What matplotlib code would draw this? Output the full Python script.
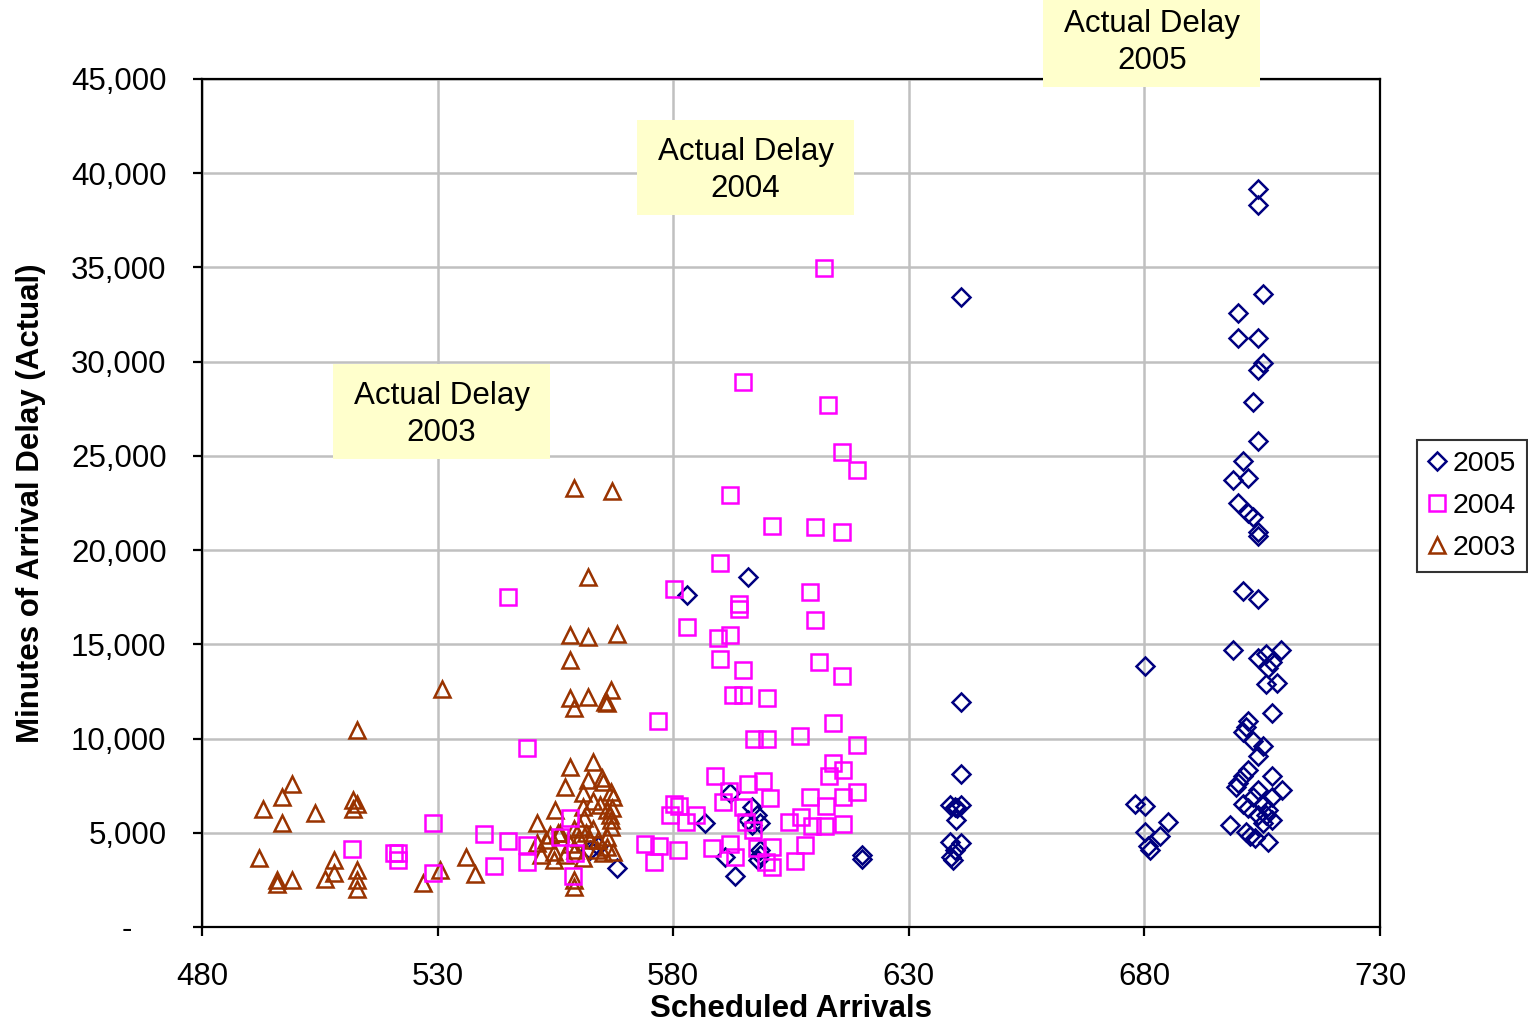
import matplotlib
matplotlib.use("Agg")
import matplotlib.pyplot as plt
from matplotlib.patches import Rectangle
from matplotlib.ticker import FuncFormatter
from matplotlib.lines import Line2D

plt.rcParams['font.family'] = ['Liberation Sans', 'DejaVu Sans']

# ---------------- data ----------------
x_2003 = [492, 493, 496, 496, 497, 497, 499, 499, 504, 506, 508, 508, 512, 513, 512, 513, 513, 513, 513,
          527, 531, 530.5, 536, 538,
          551, 551, 553.9, 553.1, 555.6, 554.6, 554.6, 554.9, 557, 558.1, 558.1, 558.1, 558.1, 559, 559,
          567.1, 562, 562, 568, 562, 566.9, 565.9, 565.5, 563, 562, 564.8, 565.2, 560.9, 566.9, 567.3,
          560.9, 564.5, 565.9, 566.6, 566.9, 566.9, 560.2, 561.6, 562.3, 559.2, 563.8, 565.9, 567.3,
          565.2, 560.9, 559, 559,
          557, 558, 560, 563, 564, 566, 561, 563, 567, 559, 552, 556]
y_2003 = [3650, 6250, 2300, 2500, 6900, 5500, 7600, 2500, 6050, 2550, 3550, 2850, 6750, 6550, 6250, 10450, 3050, 2500, 2000,
          2350, 12650, 3000, 3700, 2800,
          5500, 4440, 4880, 4620, 4970, 4000, 3560, 6210, 7450, 8510, 15500, 14170, 12140, 11600, 23300,
          23150, 18560, 15400, 15550, 12220, 12580, 11870, 11960, 8770, 7800, 7890, 7710, 7100, 7180, 6910,
          6380, 6470, 6210, 5940, 5680, 5320, 5320, 4970, 4620, 4090, 4090, 4260, 4000,
          3910, 3650, 2490, 2140,
          3800, 4400, 4700, 5200, 4600, 4800, 5800, 6700, 6300, 5200, 3800, 5000]

x_2004 = [612.0, 594.8, 612.9, 615.8, 619.0, 592.1, 601.0, 610.1, 615.8, 589.9, 580.2, 544.9, 609.0,
          594.0, 594.0, 610.1, 582.9, 592.1, 589.5, 610.9, 589.9, 594.8, 615.8, 592.7, 594.8, 599.9,
          613.9, 576.8, 606.9, 597.1, 599.9, 619.0, 549.0, 613.9, 613.0, 616.0, 588.9, 595.9, 599.1,
          619.0, 591.8, 609.0, 580.2, 581.2, 590.6, 584.8, 594.8, 600.5, 612.4, 616.0, 579.3, 582.7,
          604.6, 607.1, 609.5, 612.2, 616.0, 595.4, 529.0, 539.8, 544.9, 549.0, 549.0, 511.8, 520.7,
          521.6, 521.6, 529.0, 542.0, 558.0, 556.0, 559.2, 558.8, 574.0, 577.0, 575.9, 581.0, 588.2,
          592.1, 593.2, 597.8, 601.0, 601.0, 599.7, 605.8, 608.0, 596.9]
y_2004 = [34970, 28900, 27700, 25200, 24250, 22900, 21300, 21200, 20950, 19300, 17950, 17500, 17800,
          17150, 16900, 16300, 15900, 15500, 15350, 14050, 14200, 13650, 13300, 12300, 12300, 12150,
          10830, 10930, 10140, 9980, 9980, 9660, 9500, 8700, 8010, 8330, 8010, 7590, 7750,
          7160, 7220, 6900, 6530, 6420, 6630, 5940, 6370, 6850, 6420, 6900, 5940, 5570,
          5570, 5840, 5360, 5360, 5470, 5570, 5520, 4940, 4560, 4350, 3450, 4140, 3930,
          3930, 3560, 2870, 3240, 5770, 4790, 3910, 2710, 4400, 4300, 3450, 4090, 4190,
          4400, 3710, 4190, 4250, 3180, 3450, 3500, 4350, 5150]

x_2005 = [704.1, 704.1, 641.1, 705.2, 699.9, 699.9, 704.1, 705.2, 704.1, 703.0, 704.1, 700.9, 698.8,
          702.0, 699.9, 702.0, 703.0, 704.1, 704.1, 595.9, 582.9, 700.9, 704.1, 698.8, 680.1, 704.1,
          705.8, 709.0, 707.1, 706.2, 705.8, 708.1, 707.1, 641.1, 702.0, 701.5, 700.9, 703.0, 705.2,
          704.1, 641.1, 702.0, 700.9, 699.9, 699.4, 707.1, 704.1, 703.0, 709.2, 707.1, 700.9, 702.0,
          705.2, 706.2, 704.1, 705.8, 707.1, 705.2, 698.2, 701.5, 702.4, 703.5, 706.2, 678.0, 680.1,
          685.0, 680.1, 683.3, 680.8, 681.2, 641.1, 639.7, 638.7, 640.3, 640.1, 641.1, 638.7, 639.7,
          638.9, 639.4, 620.1, 620.1, 568.1, 586.7, 592.1, 591.0, 593.2, 596.7, 595.9, 597.8, 596.7,
          598.4, 598.4, 598.4, 598.0, 562.3, 564.0]
y_2005 = [39170, 38320, 33430, 33600, 32580, 31260, 31260, 29930, 29560, 27860, 25790, 24730, 23720,
          23830, 22500, 21970, 21760, 20960, 20750, 18570, 17620, 17830, 17410, 14700, 13850, 14280,
          14490, 14700, 14060, 13750, 12900, 12950, 11360, 11940, 10930, 10610, 10350, 9870, 9610,
          9080, 8120, 8330, 8010, 7640, 7430, 8010, 7270, 6900, 7270, 6900, 6530, 6320,
          6530, 6210, 5940, 5940, 5680, 5520, 5410, 5040, 4830, 4720, 4510, 6530, 6420,
          5570, 5040, 4830, 4300, 4090, 6470, 6370, 6470, 6300, 5680, 4460, 4510, 4090,
          3710, 3560, 3820, 3610, 3130, 5520, 7110, 3710, 2710, 6370, 5680, 5940, 5410,
          5520, 4090, 3820, 3560, 4090, 4300]

x_ticks = [480, 530, 580, 630, 680, 730]
y_ticks = [0, 5000, 10000, 15000, 20000, 25000, 30000, 35000, 40000, 45000]

notes = ["Actual Delay\n2003", "Actual Delay\n2004", "Actual Delay\n2005"]
note_x = [507.8, 572.3, 658.5]
note_y = [24840, 37790, 44580]
note_w = 46.1
note_h = 5050

# ---------------- plot ----------------
fig = plt.figure(figsize=(15.28, 10.23), dpi=100)
ax = fig.add_axes([202/1528, 1 - 927/1023, (1380-202)/1528, (927-79)/1023])

navy = '#000080'
mag = '#FF00FF'
brown = '#993300'

ax.plot(x_2005, y_2005, linestyle='none', marker='D', markersize=8.8, markerfacecolor='none',
        markeredgecolor=navy, markeredgewidth=1.8, zorder=3)
ax.plot(x_2003, y_2003, linestyle='none', marker='^', markersize=11.5, markerfacecolor='none',
        markeredgecolor=brown, markeredgewidth=1.8, zorder=4)
ax.plot(x_2004, y_2004, linestyle='none', marker='s', markersize=11, markerfacecolor='none',
        markeredgecolor=mag, markeredgewidth=1.8, zorder=5)

ax.set_xlim(480, 730)
ax.set_ylim(0, 45000)
ax.set_xticks(x_ticks)
ax.set_yticks(y_ticks)
ax.yaxis.set_major_formatter(FuncFormatter(lambda v, p: '-    ' if v == 0 else f'{int(v):,}'))
ax.grid(True, color='#C0C0C0', linewidth=1.8, zorder=0)
ax.set_axisbelow(True)
for s in ax.spines.values():
    s.set_linewidth(1.6)
    s.set_color('black')
ax.tick_params(axis='both', direction='out', length=6.5, width=1.6, labelsize=22.5, colors='black')
ax.tick_params(axis='y', pad=19)
ax.tick_params(axis='x', pad=19)

ax.set_xlabel('Scheduled Arrivals', fontsize=22.5, fontweight='bold', labelpad=1)
ax.set_ylabel('Minutes of Arrival Delay (Actual)', fontsize=22.5, fontweight='bold', labelpad=18)

for t, nx, ny in zip(notes, note_x, note_y):
    r = Rectangle((nx, ny), note_w, note_h, facecolor='#FFFFCC', edgecolor='none',
                  clip_on=False, zorder=6)
    ax.add_patch(r)
    ax.text(nx + note_w/2, ny + note_h/2 - 150, t, ha='center', va='center', fontsize=22.5,
            linespacing=1.3, clip_on=False, zorder=7)

handles = [
    Line2D([], [], linestyle='none', marker='D', markersize=8.8, markerfacecolor='none',
           markeredgecolor=navy, markeredgewidth=1.8),
    Line2D([], [], linestyle='none', marker='s', markersize=11, markerfacecolor='none',
           markeredgecolor=mag, markeredgewidth=1.8),
    Line2D([], [], linestyle='none', marker='^', markersize=11.5, markerfacecolor='none',
           markeredgecolor=brown, markeredgewidth=1.8),
]
leg = fig.legend(handles, ['2005', '2004', '2003'], loc='upper left',
                 bbox_to_anchor=(1417/1528, 1 - 440/1023), fontsize=20.5, frameon=True,
                 fancybox=False, edgecolor='black', handlelength=0.6, handletextpad=0.25,
                 borderpad=0.4, labelspacing=0.55, borderaxespad=0)
leg.get_frame().set_linewidth(1.5)

fig.savefig('out.png', dpi=100)
